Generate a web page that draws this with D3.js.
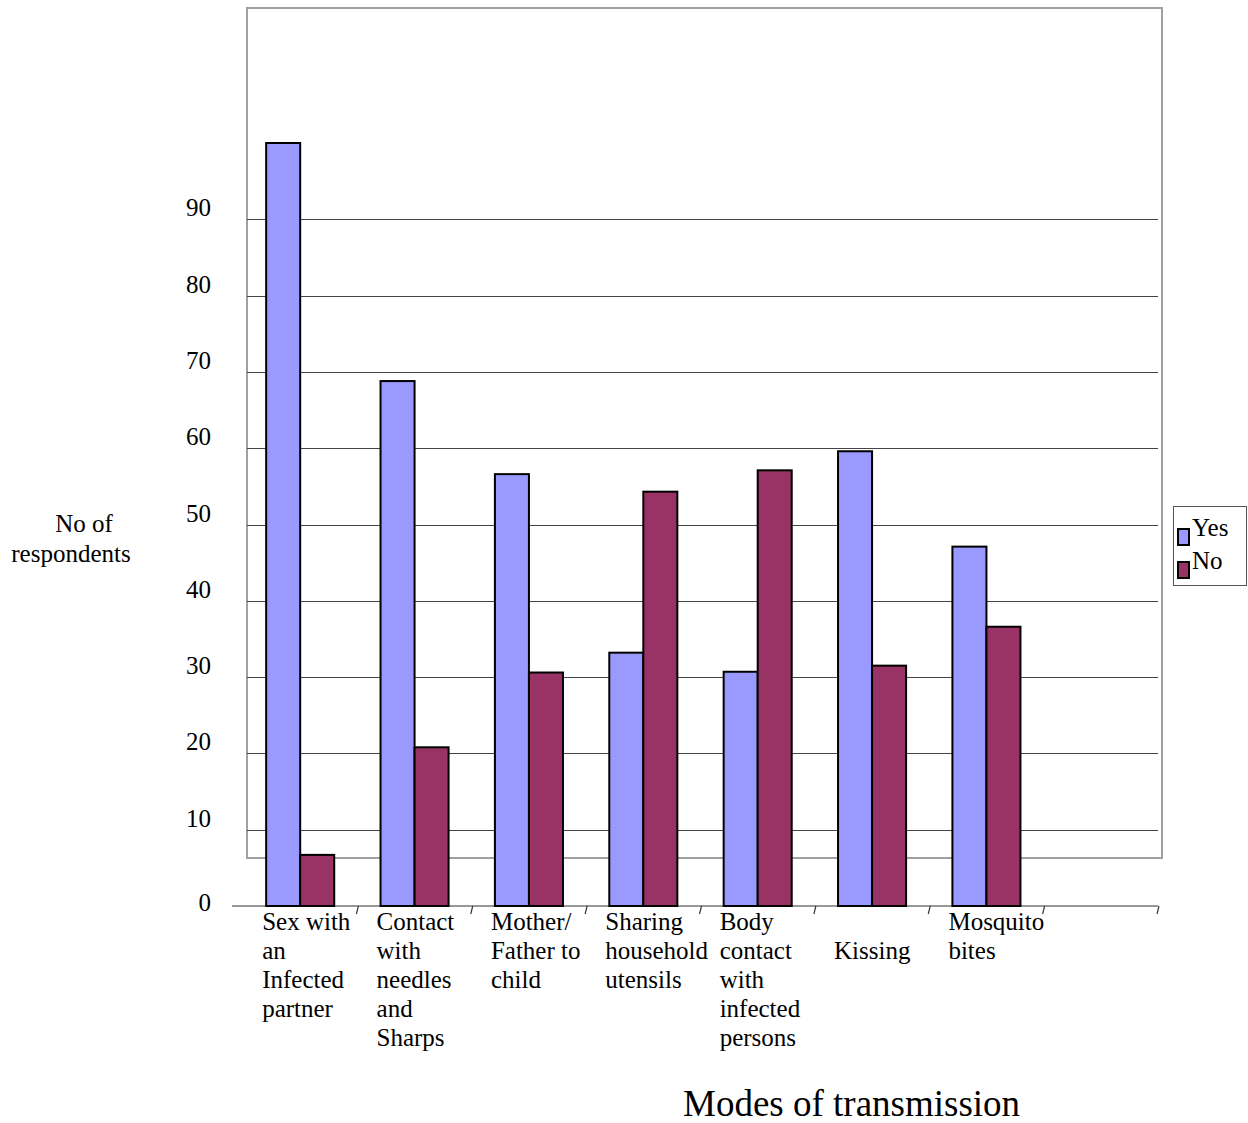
<!DOCTYPE html>
<html>
<head>
<meta charset="utf-8">
<script src="https://cdn.jsdelivr.net/npm/d3@7"></script>
<style>
  html, body { margin: 0; padding: 0; background: #fff; }
  svg { display: block; }
  text { font-family: "Liberation Serif", "Times New Roman", serif; fill: #000; }
</style>
</head>
<body>
<svg id="chart" width="1248" height="1123"></svg>
<script>
// ---- data ----
const categories = [
  "Sex with an Infected partner",
  "Contact with needles and Sharps",
  "Mother/ Father to child",
  "Sharing household utensils",
  "Body contact with infected persons",
  "Kissing",
  "Mosquito bites"
];
const categoryLabelLines = [
  ["Sex with", "an", "Infected", "partner"],
  ["Contact", "with", "needles", "and", "Sharps"],
  ["Mother/", "Father to", "child"],
  ["Sharing", "household", "utensils"],
  ["Body", "contact", "with", "infected", "persons"],
  ["", "Kissing"],
  ["Mosquito", "bites"]
];
const seriesNames = ["Yes", "No"];
const yesValues = [100, 68.8, 56.6, 33.2, 30.7, 59.6, 47.1];
const noValues  = [6.7, 20.8, 30.6, 54.3, 57.1, 31.5, 36.6];
const yTickValues = [0, 10, 20, 30, 40, 50, 60, 70, 80, 90];
const gridValues = [10, 20, 30, 40, 50, 60, 70, 80, 90];
const yAxisTitle = ["No of", "respondents"];
const xAxisTitle = "Modes of transmission";

// ---- layout ----
const seriesColors = { Yes: "#9999ff", No: "#993366" };
const baseY = 906;            // value-axis zero
const pxPerUnit = 7.63;
const slotStart = 243;
const slotEnd = 1158;         // axis runs one empty slot past the last category
const slotCount = categories.length + 1;
const step = (slotEnd - slotStart) / slotCount;
const frame = { left: 247, top: 8, right: 1162, bottom: 858 };
const labelSize = 25;

const svg = d3.select("#chart");

const y = d3.scaleLinear().domain([0, 100]).range([baseY, baseY - 100 * pxPerUnit]);

const groupPad = 0.405;
const x0 = d3.scaleBand()
  .domain(categories)
  .range([slotStart, slotStart + step * categories.length])
  .paddingInner(groupPad)
  .paddingOuter(groupPad / 2);
const x1 = d3.scaleBand().domain(seriesNames).range([0, x0.bandwidth()]);

const rows = categories.map((c, i) => ({ cat: c, Yes: yesValues[i], No: noValues[i] }));

// plot-area frame
svg.append("rect")
  .attr("x", frame.left).attr("y", frame.top)
  .attr("width", frame.right - frame.left).attr("height", frame.bottom - frame.top)
  .attr("fill", "none").attr("stroke", "#a0a0a0").attr("stroke-width", 2);

// horizontal gridlines
svg.append("g").selectAll("line").data(gridValues).join("line")
  .attr("x1", frame.left).attr("x2", slotEnd)
  .attr("y1", d => Math.round(y(d)) + 0.5).attr("y2", d => Math.round(y(d)) + 0.5)
  .attr("stroke", "#444").attr("stroke-width", 1.2);

// category axis line with slanted tick marks between slots
const xAxisG = svg.append("g");
xAxisG.append("line")
  .attr("x1", 232).attr("x2", slotEnd)
  .attr("y1", baseY).attr("y2", baseY)
  .attr("stroke", "#333").attr("stroke-width", 1.2);
xAxisG.selectAll("line.tick").data(d3.range(1, slotCount + 1)).join("line")
  .attr("class", "tick")
  .attr("x1", d => slotStart + d * step + 1).attr("y1", baseY)
  .attr("x2", d => slotStart + d * step - 1).attr("y2", baseY + 8)
  .attr("stroke", "#333").attr("stroke-width", 1.2);

// value labels
svg.append("g").selectAll("text").data(yTickValues).join("text")
  .attr("x", 211)
  .attr("y", d => d === 0 ? y(d) + 5 : y(d) - 3)
  .attr("text-anchor", "end")
  .attr("font-size", labelSize)
  .text(d => d);

// bars
const groups = svg.append("g").selectAll("g").data(rows).join("g")
  .attr("transform", d => `translate(${x0(d.cat)},0)`);
groups.selectAll("rect").data(d => seriesNames.map(s => ({ s, v: d[s] }))).join("rect")
  .attr("x", d => x1(d.s))
  .attr("width", x1.bandwidth())
  .attr("y", d => y(d.v))
  .attr("height", d => y(0) - y(d.v))
  .attr("fill", d => seriesColors[d.s])
  .attr("stroke", "#000").attr("stroke-width", 2);

// category labels
const catLabels = svg.append("g").selectAll("text").data(categories).join("text")
  .attr("x", d => x0(d) - 4)
  .attr("y", 930)
  .attr("font-size", labelSize);
catLabels.each(function(d, i) {
  const t = d3.select(this);
  categoryLabelLines[i].forEach((line, j) => {
    t.append("tspan")
      .attr("x", x0(d) - 4)
      .attr("y", 930 + j * 29)
      .text(line);
  });
});

// value-axis title
svg.append("text").attr("x", 84).attr("y", 532).attr("text-anchor", "middle")
  .attr("font-size", labelSize).text(yAxisTitle[0]);
svg.append("text").attr("x", 71).attr("y", 562).attr("text-anchor", "middle")
  .attr("font-size", labelSize).text(yAxisTitle[1]);

// category-axis title
svg.append("text").attr("x", 683).attr("y", 1116)
  .attr("font-size", 37).text(xAxisTitle);

// legend
const legend = svg.append("g");
legend.append("rect")
  .attr("x", 1173.5).attr("y", 506.5).attr("width", 73).attr("height", 79)
  .attr("fill", "#fff").attr("stroke", "#555").attr("stroke-width", 1);
seriesNames.forEach((s, i) => {
  legend.append("rect")
    .attr("x", 1178).attr("y", 529 + i * 33).attr("width", 11).attr("height", 16)
    .attr("fill", seriesColors[s]).attr("stroke", "#000").attr("stroke-width", 2);
  legend.append("text")
    .attr("x", 1192).attr("y", 536 + i * 33)
    .attr("font-size", 25).text(s);
});
</script>
</body>
</html>
